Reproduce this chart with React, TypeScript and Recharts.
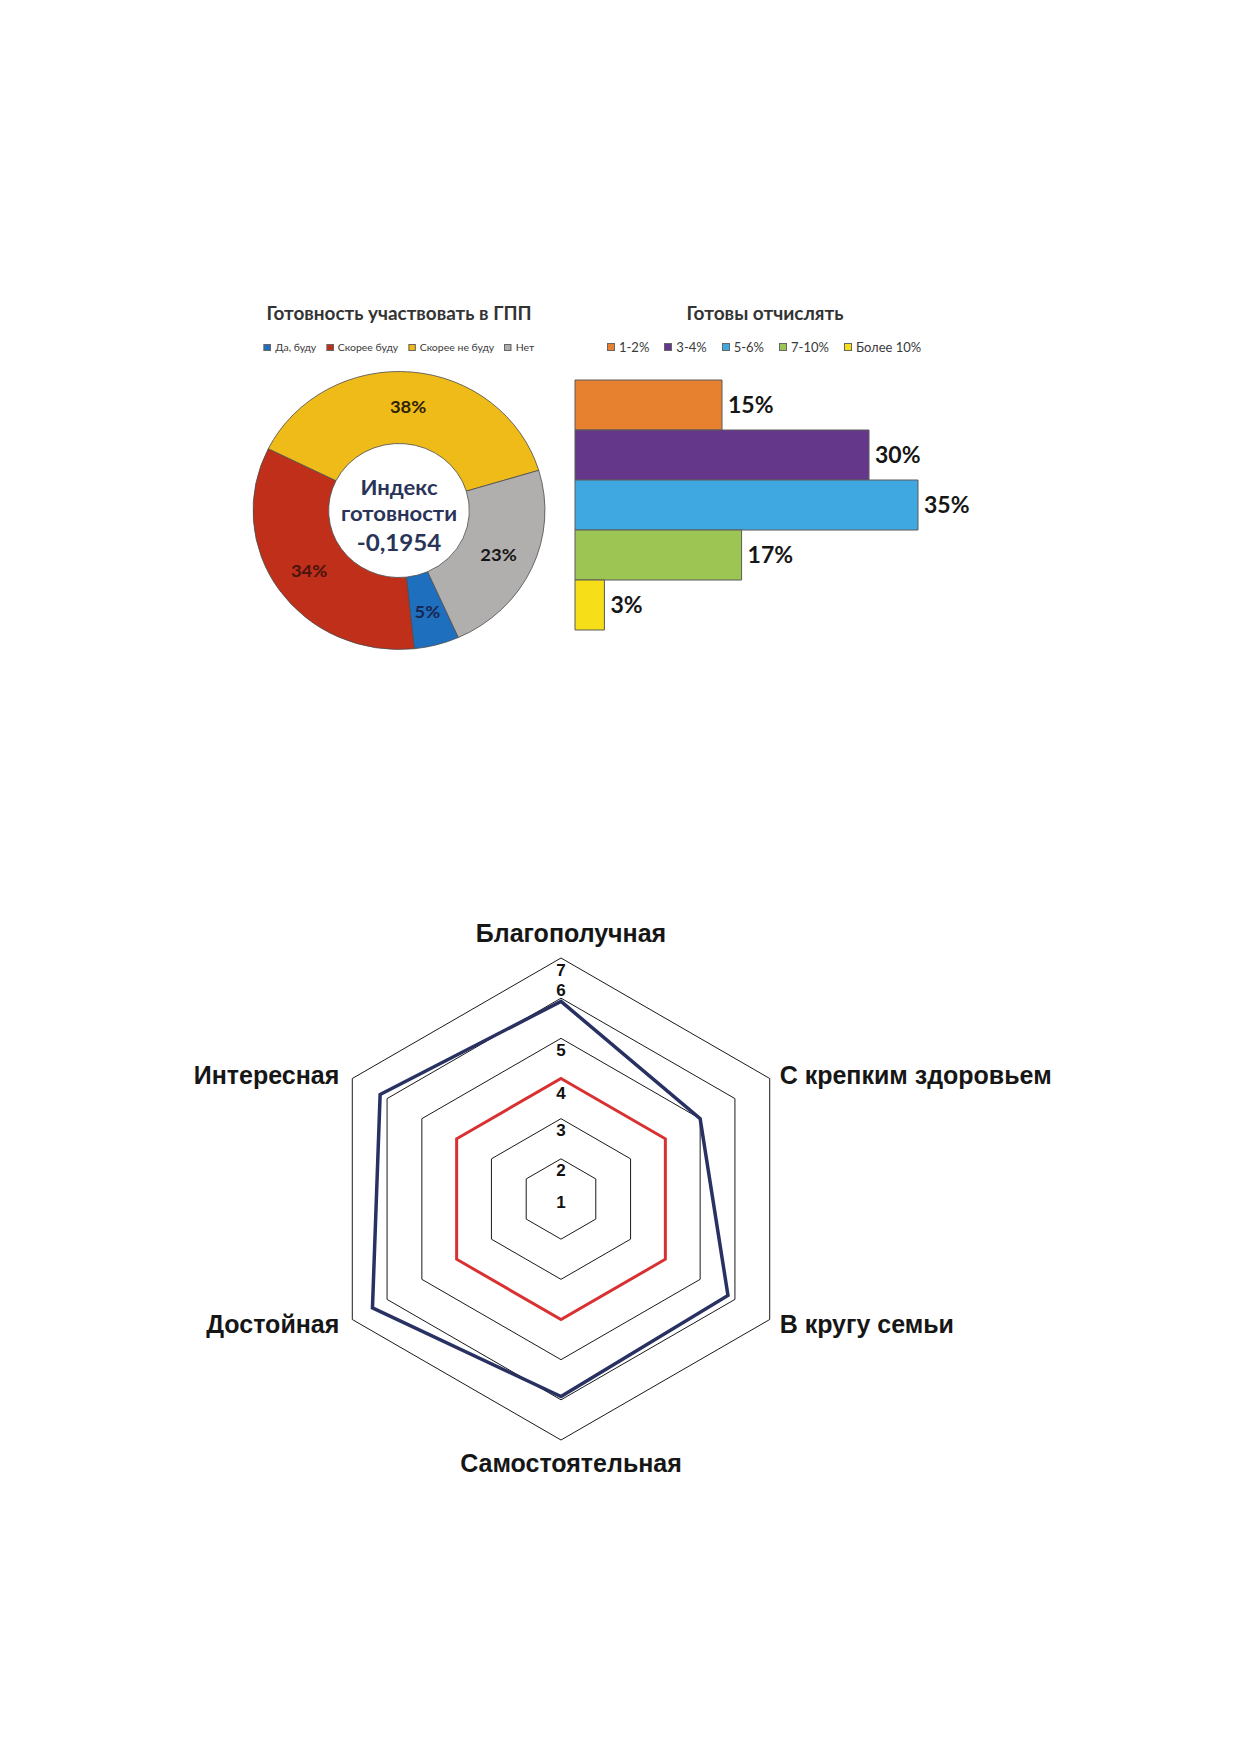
import React from 'react';
import {
  PieChart, Pie, Cell, BarChart, Bar, XAxis, YAxis, LabelList,
  RadarChart, Radar, PolarGrid, PolarAngleAxis, PolarRadiusAxis
} from 'recharts';

// Готовность участвовать в ГПП (кольцевая диаграмма)
const readinessNames = ['Да, буду', 'Скорее буду', 'Скорее не буду', 'Нет'];
const readinessValues = [5, 34, 38, 23];
const readinessColors = ['#1f6fbf', '#bf2f1a', '#efbb19', '#b1aeae'];
const readinessLabelColors = ['#1b2752', '#4a140c', '#2e2308', '#151515'];
const readinessIndexLines = ['Индекс', 'готовности', '-0,1954'];

// Готовы отчислять (столбцы)
const shareNames = ['1-2%', '3-4%', '5-6%', '7-10%', 'Более 10%'];
const shareValues = [15, 30, 35, 17, 3];
const shareColors = ['#e8812f', '#65378a', '#40a8e0', '#9cc553', '#f6df19'];

// Лепестковая диаграмма
const radarAxes = ['Благополучная', 'С крепким здоровьем', 'В кругу семьи', 'Самостоятельная', 'Достойная', 'Интересная'];
const radarBlue = [5.92, 5.0, 5.8, 5.92, 6.42, 6.2];
const radarRed = [4, 4, 4, 4, 4, 4];

const pieData = readinessNames.map((name, i) => ({ name, value: readinessValues[i] }));
const shareRow = shareNames.reduce<Record<string, any>>((acc, n, i) => ({ ...acc, [n]: shareValues[i] }), { name: 'Готовы отчислять' });
const radarData = radarAxes.map((axis, i) => ({ axis, blue: radarBlue[i], red: radarRed[i] }));

const RAD = Math.PI / 180;
const TOP_FONT = 'Lato, "Open Sans", sans-serif';
const RADAR_FONT = '"Liberation Sans", Arial, sans-serif';

const renderPieLabel = (p: any) => {
  const r = p.outerRadius * 0.75;
  const x = p.cx + r * Math.cos(-p.midAngle * RAD);
  const y = p.cy + r * Math.sin(-p.midAngle * RAD);
  return (
    <text x={x} y={y} textAnchor="middle" dominantBaseline="central"
      fill={readinessLabelColors[p.index]} fontSize={17.5} fontWeight={700} fontFamily={TOP_FONT}>
      {p.value}%
    </text>
  );
};

const renderAngleTick = (p: any) => {
  const { x, y, textAnchor, index, payload } = p;
  let dx = 0;
  let dy = 0;
  if (textAnchor === 'start') dx = 3;
  else if (textAnchor === 'end') dx = -6;
  else { dx = 10; dy = index === 0 ? -17 : 15; }
  return (
    <text x={x + dx} y={y + dy} textAnchor={textAnchor} dominantBaseline="central"
      fontSize={25} fontWeight={700} fontFamily={RADAR_FONT} fill="#161616">
      {payload.value}
    </text>
  );
};

const renderRadiusTick = (p: any) => {
  const v = p.payload.value;
  const dy = v === 6 ? -8 : v === 1 ? 3 : v === 4 ? 15 : 12;
  return (
    <text x={p.x} y={p.y + dy} textAnchor="middle" dominantBaseline="central"
      fontSize={17} fontWeight={700} fontFamily={RADAR_FONT} fill="#111">
      {v}
    </text>
  );
};

const LegendRow = ({ names, colors, fontSize, box, gap }: { names: string[]; colors: string[]; fontSize: number; box: number; gap: number }) => (
  <div style={{ display: 'flex', alignItems: 'center', gap, fontFamily: TOP_FONT, fontSize, color: '#3a3a3a', whiteSpace: 'nowrap' }}>
    {names.map((n, i) => (
      <span key={n} style={{ display: 'flex', alignItems: 'center' }}>
        <span style={{ width: box, height: box, background: colors[i], border: '1px solid #666', marginRight: 4, display: 'inline-block', boxSizing: 'border-box' }} />
        {n}
      </span>
    ))}
  </div>
);

const App = () => {
  return (
    <div style={{ position: 'absolute', left: 0, top: 0, width: 1239, height: 1752, background: '#fff', overflow: 'hidden' }}>
      {/* кольцевая диаграмма, слегка растянута по горизонтали как в оригинале */}
      <div style={{ position: 'absolute', left: 229, top: 290, width: 340, height: 370, transform: 'scaleX(1.05)', transformOrigin: '170px 0' }}>
        <div style={{ position: 'absolute', left: 0, top: 0 }}>
          <PieChart width={340} height={370} margin={{ top: 0, right: 0, bottom: 0, left: 0 }}>
            <Pie data={pieData} dataKey="value" nameKey="name" cx={170} cy={220.5}
              innerRadius={67} outerRadius={139} startAngle={-66} endAngle={-426}
              stroke="#4d4d4d" strokeWidth={0.8} label={renderPieLabel} labelLine={false}
              isAnimationActive={false}>
              {pieData.map((d, i) => <Cell key={d.name} fill={readinessColors[i]} />)}
            </Pie>
          </PieChart>
        </div>
        <div style={{ position: 'absolute', left: -20, top: 12, width: 380, textAlign: 'center', fontFamily: TOP_FONT, fontWeight: 700, fontSize: 18, lineHeight: '22px', color: '#333' }}>
          Готовность участвовать в ГПП
        </div>
        <div style={{ position: 'absolute', left: 0, top: 50, width: 340, height: 14, display: 'flex', justifyContent: 'center' }}>
          <LegendRow names={readinessNames} colors={readinessColors} fontSize={10} box={7} gap={9.5} />
        </div>
        {readinessIndexLines.map((line, i) => (
          <div key={line} style={{
            position: 'absolute', left: 0, width: 340, textAlign: 'center', height: 28, lineHeight: '28px',
            top: [197, 223, 252][i] - 14, fontFamily: TOP_FONT, fontWeight: 700,
            fontSize: i === 2 ? 23 : 21, color: '#2a3358'
          }}>{line}</div>
        ))}
      </div>

      {/* столбчатая диаграмма */}
      <div style={{ position: 'absolute', left: 600, top: 302, width: 330, textAlign: 'center', fontFamily: TOP_FONT, fontWeight: 700, fontSize: 19, lineHeight: '22px', color: '#333' }}>
        Готовы отчислять
      </div>
      <div style={{ position: 'absolute', left: 607, top: 339 }}>
        <LegendRow names={shareNames} colors={shareColors} fontSize={13} box={8} gap={15} />
      </div>
      <div style={{ position: 'absolute', left: 570, top: 370 }}>
        <BarChart width={460} height={270} data={[shareRow]} layout="vertical"
          margin={{ top: 10, right: 63, bottom: 10, left: 5 }} barCategoryGap={0} barGap={0}>
          <XAxis type="number" domain={[0, 40]} hide />
          <YAxis type="category" dataKey="name" hide />
          {shareNames.map((n, i) => (
            <Bar key={n} dataKey={n} name={n} fill={shareColors[i]} stroke="#5a5a5a" strokeWidth={1} isAnimationActive={false}>
              <LabelList dataKey={n} position="right" offset={6} formatter={(v: any) => `${v}%`}
                fill="#161616" fontSize={23} fontWeight={700} fontFamily={TOP_FONT} />
            </Bar>
          ))}
        </BarChart>
      </div>

      {/* лепестковая диаграмма */}
      <div style={{ position: 'absolute', left: 0, top: 880 }}>
        <RadarChart width={1239} height={620} cx={561} cy={319} outerRadius={241} data={radarData}
          margin={{ top: 0, right: 0, bottom: 0, left: 0 }}>
          <PolarGrid gridType="polygon" radialLines={false} stroke="#1a1a1a" strokeWidth={1} />
          <PolarAngleAxis dataKey="axis" tick={renderAngleTick} tickLine={false} axisLine={false} />
          <PolarRadiusAxis angle={90} domain={[1, 7]} tickCount={7} axisLine={false} tick={renderRadiusTick} />
          <Radar dataKey="red" stroke="#d93131" strokeWidth={3} fill="none" fillOpacity={0} dot={false} isAnimationActive={false} />
          <Radar dataKey="blue" stroke="#283161" strokeWidth={3.5} fill="none" fillOpacity={0} dot={false} isAnimationActive={false} />
        </RadarChart>
      </div>
    </div>
  );
};

export default App;
